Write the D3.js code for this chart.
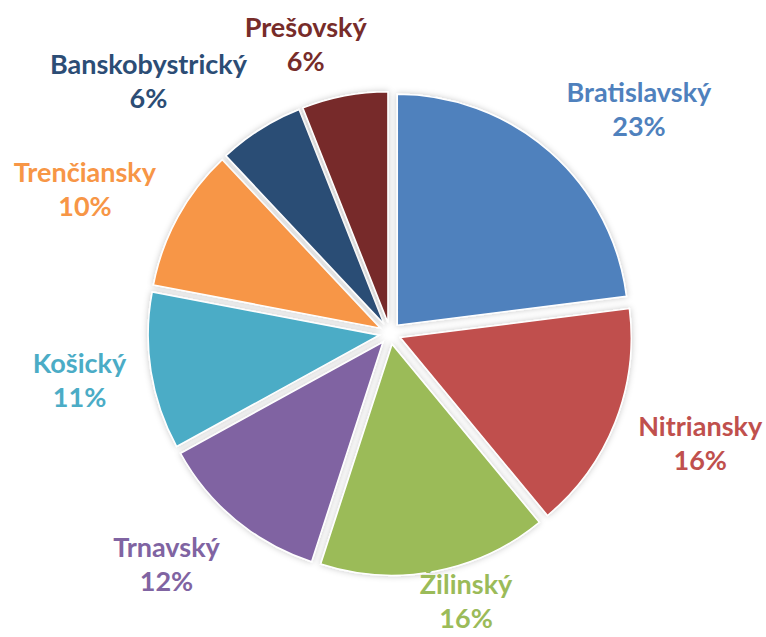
<!DOCTYPE html>
<html>
<head>
<meta charset="utf-8">
<script src="https://cdn.jsdelivr.net/npm/d3@7/dist/d3.min.js"></script>
<style>
  html, body { margin: 0; padding: 0; background: #ffffff; }
  svg { display: block; }
</style>
</head>
<body>
<svg id="chart" width="766" height="637"></svg>
<script>
// ---- data ----
const regions = ["Bratislavský", "Nitriansky", "Žilinský", "Trnavský", "Košický", "Trenčiansky", "Banskobystrický", "Prešovský"];
const shares  = [23, 16, 16, 12, 11, 10, 6, 6];
const colors  = ["#4F81BD", "#C0504D", "#9BBB59", "#8064A2", "#4BACC6", "#F79646", "#2C4D75", "#772C2A"];

// ---- layout ----
const W = 766, H = 637;
const cx = 390, cy = 333.5;
const radius = 231;
const explode = 11;
const labelR = 267;
const fontSize = 27;
const lineGap = 34;
const capH = 19.5;

const svg = d3.select("#chart");

const defs = svg.append("defs");
const f = defs.append("filter").attr("id", "shadow")
  .attr("x", "-20%").attr("y", "-20%").attr("width", "140%").attr("height", "140%");
f.append("feDropShadow").attr("dx", 0).attr("dy", 0).attr("stdDeviation", 3)
  .attr("flood-color", "#000").attr("flood-opacity", 0.22);

const data = regions.map((r, i) => ({ name: r, value: shares[i], color: colors[i] }));
const pie = d3.pie().sort(null).value(d => d.value);
const arcs = pie(data);
const arc = d3.arc().innerRadius(0).outerRadius(radius);

const g = svg.append("g").attr("transform", `translate(${cx},${cy})`);

g.selectAll("path.slice")
  .data(arcs)
  .join("path")
  .attr("class", "slice")
  .attr("d", arc)
  .attr("fill", d => d.data.color)
  .attr("stroke", "#ffffff")
  .attr("stroke-width", 1.5)
  .attr("filter", "url(#shadow)")
  .attr("transform", d => {
    const a = (d.startAngle + d.endAngle) / 2;
    return `translate(${explode * Math.sin(a)},${-explode * Math.cos(a)})`;
  });

const clamp = v => Math.max(-1, Math.min(1, v));
const total = d3.sum(shares);

const labels = g.selectAll("g.label")
  .data(arcs)
  .join("g")
  .attr("class", "label");

labels.each(function(d) {
  const sel = d3.select(this);
  const t1 = sel.append("text")
    .attr("text-anchor", "middle")
    .attr("font-family", "Lato, 'Open Sans', sans-serif")
    .attr("font-weight", 700)
    .attr("font-size", fontSize)
    .attr("fill", d.data.color)
    .text(d.data.name);
  const t2 = sel.append("text")
    .attr("text-anchor", "middle")
    .attr("font-family", "Lato, 'Open Sans', sans-serif")
    .attr("font-weight", 700)
    .attr("font-size", fontSize)
    .attr("fill", d.data.color)
    .text(d3.format(".0%")(d.data.value / total));
  const w = Math.max(t1.node().getComputedTextLength(), t2.node().getComputedTextLength());
  const h = lineGap + capH;
  const a = (d.startAngle + d.endAngle) / 2;
  const ax = labelR * Math.sin(a), ay = -labelR * Math.cos(a);
  const bx = ax + clamp(3 * Math.sin(a)) * w / 2;
  let by = ay + clamp(-1.2 * Math.cos(a)) * h / 2;
  // keep the label block (with descenders) inside the picture
  by = Math.min(by, H - cy - h / 2 - 9);
  by = Math.max(by, -cy + h / 2 + 6);
  t1.attr("y", -h / 2 + capH);
  t2.attr("y", h / 2);
  sel.attr("transform", `translate(${bx},${by})`);
});
</script>
</body>
</html>
